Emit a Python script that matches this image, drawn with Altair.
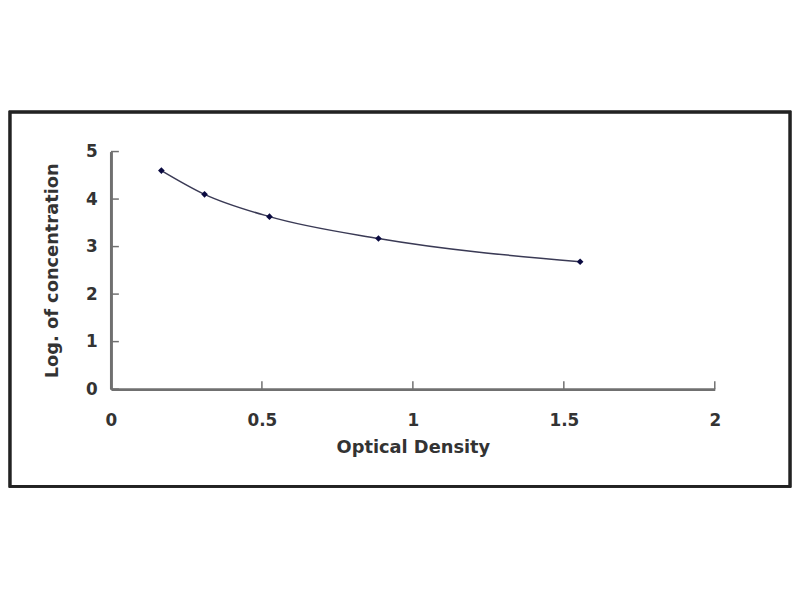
import altair as alt
import pandas as pd

od = [0.167, 0.31, 0.525, 0.886, 1.554]
logc = [4.6, 4.1, 3.63, 3.17, 2.68]
x_ticks = [0, 0.5, 1, 1.5, 2]
y_ticks = [0, 1, 2, 3, 4, 5]

df = pd.DataFrame({"od": od, "logc": logc})
xt = pd.DataFrame({"v": x_ticks})
yt = pd.DataFrame({"v": y_ticks})

W, H = 610, 240
FONT = "DejaVu Sans"
xs = alt.Scale(domain=[0, 2], nice=False)
ys = alt.Scale(domain=[0, 5], nice=False)

xaxis = alt.Axis(values=x_ticks, format="~g", title="Optical Density", tickSize=0, labelPadding=24,
                 titlePadding=10, grid=False, domainColor="#707070", domainWidth=3,
                 labelFont=FONT, labelFontSize=17, labelFontWeight="bold", labelColor="#333",
                 titleFont=FONT, titleFontSize=18, titleFontWeight="bold", titleColor="#333",
                 labelFlush=False)
yaxis = alt.Axis(values=y_ticks, format="~g", title="Log. of concentration", tickSize=0, labelPadding=14,
                 titlePadding=24, grid=False, domainColor="#707070", domainWidth=3,
                 labelFont=FONT, labelFontSize=17, labelFontWeight="bold", labelColor="#333",
                 titleFont=FONT, titleFontSize=18, titleFontWeight="bold", titleColor="#333",
                 labelFlush=False)

frame = alt.Chart(xt).mark_rect(fill=None, stroke="#222", strokeWidth=2.5).encode(
    x=alt.value(-102), x2=alt.value(686), y=alt.value(-40), y2=alt.value(338))

line = alt.Chart(df).mark_line(interpolate="monotone", color="#3a3a55", strokeWidth=1.5).encode(
    x=alt.X("od:Q", scale=xs, axis=xaxis),
    y=alt.Y("logc:Q", scale=ys, axis=yaxis))

pts = alt.Chart(df).mark_point(shape="diamond", filled=True, color="#0a0a40", size=45, opacity=1).encode(
    x=alt.X("od:Q", scale=xs), y=alt.Y("logc:Q", scale=ys))

xtick = alt.Chart(xt).mark_rule(color="#707070", strokeWidth=1.5).encode(
    x=alt.X("v:Q", scale=xs), y=alt.value(H), y2=alt.value(H - 8))
ytick = alt.Chart(yt).mark_rule(color="#707070", strokeWidth=1.5).encode(
    y=alt.Y("v:Q", scale=ys), x=alt.value(0), x2=alt.value(8))

chart = alt.layer(frame, line, xtick, ytick, pts).properties(
    width=W, height=H,
    autosize=alt.AutoSizeParams(type="none"),
    padding={"left": 104, "top": 142, "right": 78, "bottom": 210},
    background="white",
).configure_view(stroke=None)

chart.save("out.html", embed_options={"renderer": "svg", "actions": False})
